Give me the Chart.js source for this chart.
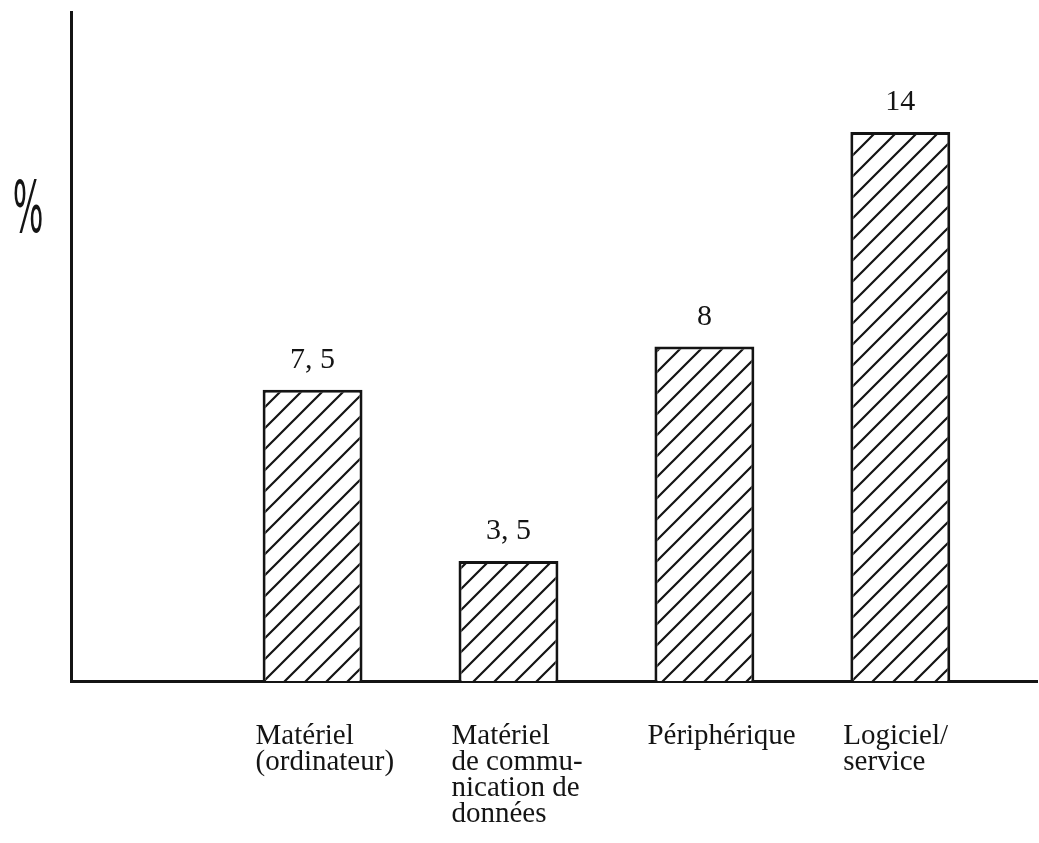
<!DOCTYPE html>
<html>
<head>
<meta charset="utf-8">
<script src="https://cdn.jsdelivr.net/npm/chart.js@4/dist/chart.umd.min.js"></script>
<style>
  html, body { margin: 0; padding: 0; background: #fff; }
  #wrap { width: 1039px; height: 843px; }
</style>
</head>
<body>
<div id="wrap"><canvas id="graficoParts" width="1039" height="843"></canvas></div>
<script>
// categories (multi-line labels as printed under the axis)
const categories = [
  ['Matériel', '(ordinateur)'],
  ['Matériel', 'de commu-', 'nication de', 'données'],
  ['Périphérique'],
  ['Logiciel/', 'service']
];
// bar heights as drawn (the hand drawing is not exactly to scale)
const values = [7.4, 3.05, 8.5, 13.95];
// value labels written above the bars
const valueLabels = ['7, 5', '3, 5', '8', '14'];

const INK = '#141414';

function hatch() {
  const s = 21;
  const c = document.createElement('canvas');
  c.width = s; c.height = s;
  const g = c.getContext('2d');
  g.fillStyle = '#fff';
  g.fillRect(0, 0, s, s);
  g.strokeStyle = INK;
  g.lineWidth = 2.2;
  g.beginPath();
  g.moveTo(-2, s + 2); g.lineTo(s + 2, -2);
  g.moveTo(-2, 2); g.lineTo(2, -2);
  g.moveTo(s - 2, s + 2); g.lineTo(s + 2, s - 2);
  g.stroke();
  return g.createPattern(c, 'repeat');
}

const extras = {
  id: 'extras',
  afterDatasetsDraw(chart) {
    const ctx = chart.ctx;
    const meta = chart.getDatasetMeta(0);
    ctx.save();
    ctx.fillStyle = INK;
    ctx.font = '30px "Liberation Serif"';
    ctx.textAlign = 'center';
    ctx.textBaseline = 'alphabetic';
    meta.data.forEach((bar, i) => {
      ctx.fillText(valueLabels[i], bar.x, bar.y - 22);
    });
    // handwritten-looking percent sign beside the y axis
    ctx.translate(chart.chartArea.left - 43, 213);
    ctx.scale(0.95, 2.1);
    ctx.font = '34px "DejaVu Sans"';
    ctx.textBaseline = 'middle';
    ctx.fillText('%', 0, 0);
    ctx.restore();
  }
};

new Chart(document.getElementById('graficoParts'), {
  type: 'bar',
  data: {
    datasets: [{
      data: values.map((v, i) => ({ x: i + 1, y: v })),
      backgroundColor: hatch(),
      borderColor: INK,
      borderWidth: 3,
      borderSkipped: 'bottom',
      barPercentage: 0.51,
      categoryPercentage: 1
    }]
  },
  options: {
    responsive: false,
    animation: false,
    layout: { padding: { left: 71, top: 12, right: 0, bottom: 0 } },
    plugins: { legend: { display: false }, tooltip: { enabled: false } },
    scales: {
      x: {
        type: 'linear',
        offset: false,
        min: -0.233,
        max: 4.698,
        afterBuildTicks: s => { s.ticks = categories.map((_, i) => ({ value: i + 1 })); },
        afterFit: s => { s.height = 162; },
        grid: { display: false },
        border: { display: true, width: 3, color: INK },
        ticks: {
          autoSkip: false,
          maxRotation: 0,
          align: 'start',
          labelOffset: -57,
          padding: 34,
          color: INK,
          font: { family: 'Liberation Serif', size: 29, lineHeight: 0.9 },
          callback: v => categories[v - 1] || ''
        }
      },
      y: {
        min: 0,
        max: 17,
        afterFit: s => { s.width = 0; },
        grid: { display: false },
        border: { display: true, width: 3, color: INK },
        ticks: { display: false }
      }
    }
  },
  plugins: [extras]
});
</script>
</body>
</html>
